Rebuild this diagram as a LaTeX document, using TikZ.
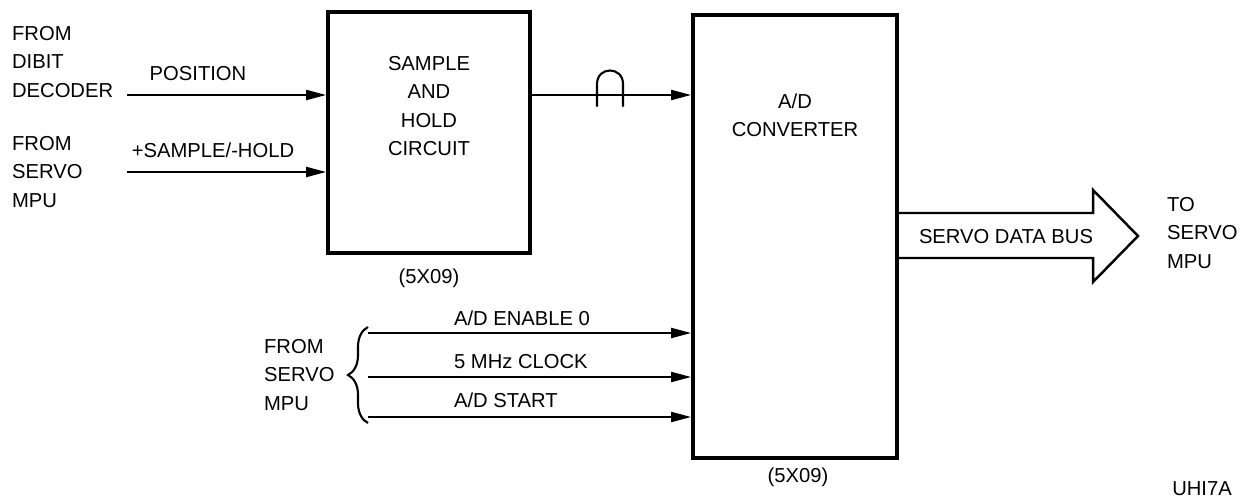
\documentclass[tikz,border=0pt]{standalone}
\usepackage{fontspec}
\setmainfont{Liberation Sans}
\usetikzlibrary{arrows.meta,decorations.pathreplacing}

\begin{document}
\begin{tikzpicture}[x=0.02cm, y=-0.02cm,
    every node/.style={font=\fontsize{11.5}{16}\selectfont, inner sep=1pt},
    blk/.style={draw, line width=2.2pt, inner sep=0pt},
    sig/.style={line width=1.2pt, -{Triangle[length=4mm,width=2mm]}}]
    \useasboundingbox (0,0) rectangle (1246,500);

    % Sample and hold block
    \node[blk, minimum width=4.04cm, minimum height=4.82cm] (sh) at (429,132.5) {};
    \node[align=center] (shtext) at (429,106) {SAMPLE\\AND\\HOLD\\CIRCUIT};
    \node (shpart) at (429,278) {(5X09)};

    % A/D converter block
    \node[blk, minimum width=4.08cm, minimum height=8.86cm] (adc) at (795,236.5) {};
    \node[align=center] (adctext) at (795,115) {A/D\\CONVERTER};
    \node (adcpart) at (798,477) {(5X09)};

    % Inputs to sample and hold
    \node[align=left, anchor=west] (dibit) at (10,62) {FROM\\DIBIT\\DECODER};
    \node[align=left, anchor=west] (mpua) at (10,172) {FROM\\SERVO\\MPU};
    \coordinate (posin) at (127,95);
    \coordinate (smpin) at (127,172);
    \draw[sig] (posin) -- (posin -| sh.west);
    \draw[sig] (smpin) -- (smpin -| sh.west);
    \node (poslbl) at (198,74) {POSITION};
    \node (smplbl) at (213,150) {+SAMPLE/-HOLD};

    % Sample and hold output, with jumper
    \draw[sig] (sh.east |- posin) -- (adc.west |- posin);
    \draw[line width=1.2pt, line cap=round] (597,106) -- (597,84) .. controls (597,66) and (623,66) .. (623,84) -- (623,106);

    % Inputs to A/D from servo MPU
    \coordinate (enin) at (368,333);
    \coordinate (clkin) at (368,377);
    \coordinate (stin) at (368,417);
    \draw[sig] (enin) -- (enin -| adc.west);
    \draw[sig] (clkin) -- (clkin -| adc.west);
    \draw[sig] (stin) -- (stin -| adc.west);
    \node[anchor=west] (enlbl) at (452,318) {A/D ENABLE 0};
    \node[anchor=west] (clklbl) at (452,362) {5 MHz CLOCK};
    \node[anchor=west] (stlbl) at (452,400) {A/D START};
    \draw[line width=1.2pt, decorate, decoration={brace, amplitude=4mm}] (368,423) -- (368,327);
    \node[align=left, anchor=west] (mpub) at (262,375) {FROM\\SERVO\\MPU};

    % Data bus out
    \draw[line width=1.4pt] (897,213) -- (1093,213) -- (1093,190) -- (1138,236) -- (1093,282) -- (1093,258) -- (897,258);
    \node (bus) at (1006,237) {SERVO DATA BUS};
    \node[align=left, anchor=west] (tompu) at (1165,233) {TO\\SERVO\\MPU};

    \node (code) at (1202,489) {UHI7A};
\end{tikzpicture}
\end{document}
